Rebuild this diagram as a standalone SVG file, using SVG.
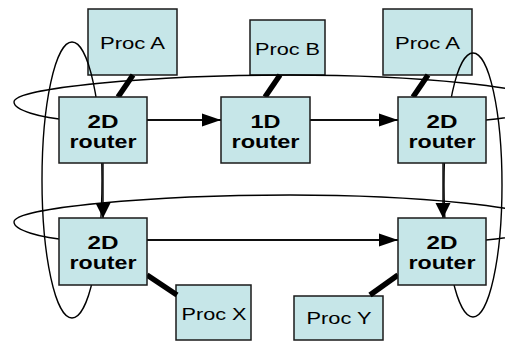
<svg xmlns="http://www.w3.org/2000/svg" width="505" height="341" viewBox="0 0 505 341">
  <style>
    .box { fill: #C6E6E8; stroke: #1a1a1a; stroke-width: 1.5; }
    .ring { fill: none; stroke: #000; stroke-width: 1.4; }
    .wire { fill: none; stroke: #000; stroke-width: 1.4; }
    .tap { stroke: #000; stroke-width: 5.5; }
    .proc { font-family: "Liberation Sans", Arial, sans-serif; font-size: 16.3px; fill: #000; text-anchor: middle; }
    .rt { font-family: "Liberation Sans", Arial, sans-serif; font-size: 18.5px; font-weight: bold; fill: #000; text-anchor: middle; }
  </style>
  <defs>
    <marker id="headH" markerUnits="userSpaceOnUse" markerWidth="20" markerHeight="14" refX="19" refY="7" orient="auto">
      <polygon points="0,0.5 19,7 0,13.5" fill="#000"/>
    </marker>
    <marker id="headV" markerUnits="userSpaceOnUse" markerWidth="16" markerHeight="16" refX="15" refY="8" orient="auto">
      <polygon points="0,0.5 15,8 0,15.5" fill="#000"/>
    </marker>
    <!-- flattened ring: its lower run lies along the router-to-router links -->
    <path id="hring" d="M14,102 C14,88 150,75 290,75 C420,75 540,88 540,100 C540,110 515,118 486,120 L70,120 C40,118 14,110 14,102 Z"/>
  </defs>

  <!-- processors -->
  <g id="procA1"><rect class="box" x="88" y="9" width="89" height="66"/><text class="proc" x="132.5" y="48.5" textLength="65" lengthAdjust="spacingAndGlyphs">Proc A</text></g>
  <g id="procB"><rect class="box" x="250" y="20" width="75" height="55"/><text class="proc" x="287.5" y="54.5" textLength="65" lengthAdjust="spacingAndGlyphs">Proc B</text></g>
  <g id="procA2"><rect class="box" x="383" y="9" width="89" height="66"/><text class="proc" x="427.5" y="48.5" textLength="65" lengthAdjust="spacingAndGlyphs">Proc A</text></g>
  <g id="procX"><rect class="box" x="176" y="285" width="75" height="55"/><text class="proc" x="214" y="320" textLength="65" lengthAdjust="spacingAndGlyphs">Proc X</text></g>
  <g id="procY"><rect class="box" x="294" y="296" width="89" height="44"/><text class="proc" x="339" y="323.5" textLength="65" lengthAdjust="spacingAndGlyphs">Proc Y</text></g>

  <!-- connectors: torus rings, links and processor taps -->
  <g id="connectors">
    <use href="#hring" class="ring"/>
    <use href="#hring" class="ring" transform="translate(0,120)"/>
    <ellipse class="ring" cx="72" cy="180" rx="30" ry="138"/>
    <ellipse class="ring" cx="473" cy="185" rx="29" ry="132"/>
    <line class="wire" x1="147" y1="120" x2="221" y2="120" marker-end="url(#headH)"/>
    <line class="wire" x1="310" y1="120" x2="398" y2="120" marker-end="url(#headH)"/>
    <line class="wire" x1="147" y1="240" x2="398" y2="240" marker-end="url(#headH)"/>
    <line class="wire" x1="103" y1="163" x2="103" y2="218" marker-end="url(#headV)"/>
    <line class="wire" x1="443" y1="163" x2="443" y2="218" marker-end="url(#headV)"/>
    <line class="tap" x1="133" y1="75" x2="118" y2="97"/>
    <line class="tap" x1="280" y1="75" x2="265" y2="97"/>
    <line class="tap" x1="428" y1="75" x2="413" y2="97"/>
    <line class="tap" x1="147" y1="275" x2="177" y2="295"/>
    <line class="tap" x1="398" y1="275" x2="370" y2="295"/>
  </g>

  <!-- routers -->
  <g id="router2dTL"><rect class="box" x="59" y="97" width="88" height="66"/><text class="rt" x="103" y="128" textLength="31" lengthAdjust="spacingAndGlyphs">2D</text><text class="rt" x="103" y="147.5" textLength="67" lengthAdjust="spacingAndGlyphs">router</text></g>
  <g id="router1d"><rect class="box" x="221" y="97" width="89" height="66"/><text class="rt" x="265.5" y="128" textLength="30" lengthAdjust="spacingAndGlyphs">1D</text><text class="rt" x="265.5" y="147.5" textLength="68" lengthAdjust="spacingAndGlyphs">router</text></g>
  <g id="router2dTR"><rect class="box" x="398" y="97" width="88" height="66"/><text class="rt" x="442" y="128" textLength="31" lengthAdjust="spacingAndGlyphs">2D</text><text class="rt" x="442" y="147.5" textLength="67" lengthAdjust="spacingAndGlyphs">router</text></g>
  <g id="router2dBL"><rect class="box" x="59" y="218" width="88" height="67"/><text class="rt" x="103" y="249" textLength="31" lengthAdjust="spacingAndGlyphs">2D</text><text class="rt" x="103" y="269" textLength="67" lengthAdjust="spacingAndGlyphs">router</text></g>
  <g id="router2dBR"><rect class="box" x="398" y="218" width="88" height="67"/><text class="rt" x="442" y="249" textLength="31" lengthAdjust="spacingAndGlyphs">2D</text><text class="rt" x="442" y="269" textLength="67" lengthAdjust="spacingAndGlyphs">router</text></g>
</svg>
